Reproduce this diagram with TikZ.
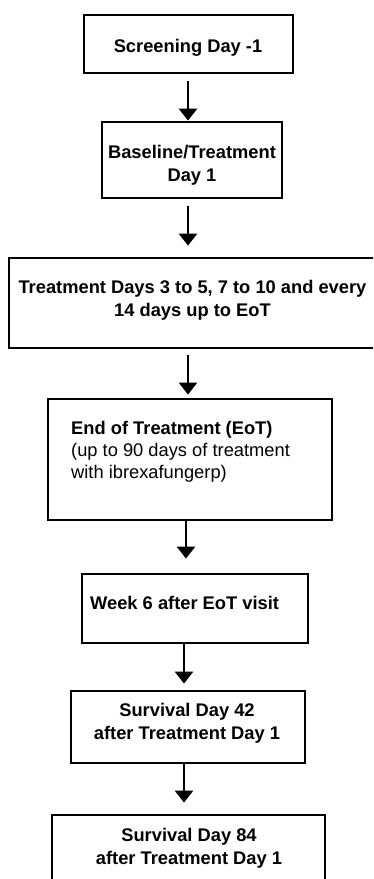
\documentclass[tikz,border=0pt]{standalone}
\usepackage{fontspec}
\setmainfont{Liberation Sans}
\usetikzlibrary{arrows.meta}

\tikzset{
  box/.style={draw, line width=2.8pt, inner sep=0pt},
  lbl/.style={inner sep=0pt, align=center, font=\fontsize{18.3}{23}\selectfont\bfseries},
  arr/.style={line width=2.8pt, -{Triangle[width=18pt,length=12pt]}}
}

\begin{document}
\begin{tikzpicture}[x=1pt,y=-1pt]

\clip (0,0) rectangle (373,879);

% boxes
\node[box, minimum width=209, minimum height=58] (scr) at (188.5,44) {};
\node[box, minimum width=180, minimum height=76] (base) at (192,160) {};
\node[box, minimum width=386, minimum height=90] (treat) at (202,303) {};
\node[box, minimum width=284, minimum height=121] (eot) at (190,459.5) {};
\node[box, minimum width=226, minimum height=69] (wk6) at (195,608.5) {};
\node[box, minimum width=234, minimum height=72] (s42) at (188,727) {};
\node[box, minimum width=273, minimum height=90] (s84) at (188.5,860) {};

% texts (base = last line)
\node[lbl, anchor=base] (scr-t) at (188,52) {Screening Day -1};
\node[lbl, anchor=base] (base-t) at (192,181) {Baseline/Treatment\\Day 1};
\node[lbl, anchor=base] (treat-t) at (192.5,316) {Treatment Days 3 to 5, 7 to 10 and every\\14 days up to EoT};
\node[lbl, anchor=base west, align=left, font=\fontsize{18.3}{22}\selectfont] (eot-t) at (71,478)
  {\textbf{End of Treatment (EoT)}\\(up to 90 days of treatment\\with ibrexafungerp)};
\node[lbl, anchor=base west] (wk6-t) at (90,609) {Week 6 after EoT visit};
\node[lbl, anchor=base] (s42-t) at (187,739) {Survival Day 42\\after Treatment Day 1};
\node[lbl, anchor=base] (s84-t) at (189,864) {Survival Day 84\\after Treatment Day 1};

% arrows
\coordinate (colA) at (188,0);
\coordinate (colB) at (186,0);
\coordinate (colC) at (184,0);
\foreach \a/\b/\c/\s/\e in {scr/base/colA/7/0, base/treat/colA/7/11, treat/eot/colA/6/3,
                            eot/wk6/colB/0/14, wk6/s42/colC/0/6, s42/s84/colC/0/11}
  \draw[arr, shorten <=\s pt, shorten >=\e pt] (\c |- \a.south) -- (\c |- \b.north);

\end{tikzpicture}
\end{document}
